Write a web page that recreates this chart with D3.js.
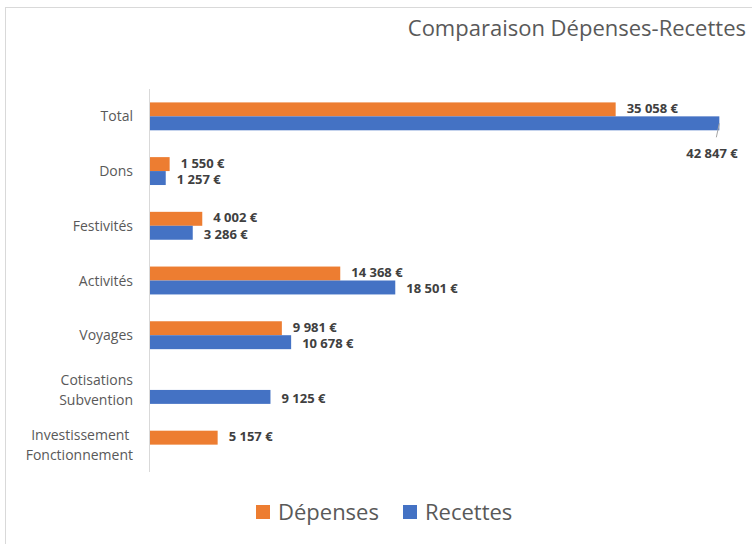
<!DOCTYPE html>
<html>
<head>
<meta charset="utf-8">
<script src="https://cdn.jsdelivr.net/npm/d3@7"></script>
<style>
  body { margin: 0; background: #fff; }
  text { font-family: "Open Sans", "Noto Sans", sans-serif; }
</style>
</head>
<body>
<script>
// données
var categories = ["Total", "Dons", "Festivités", "Activités", "Voyages", "Cotisations\nSubvention", "Investissement \nFonctionnement"];
var series = ["Dépenses", "Recettes"];
var depenses = [35058, 1550, 4002, 14368, 9981, null, 5157];
var recettes = [42847, 1257, 3286, 18501, 10678, 9125, null];
var colors = ["#ED7D31", "#4472C4"];

var width = 752, height = 544;

var svg = d3.select("body").append("svg")
    .attr("width", width)
    .attr("height", height);

// cadre du graphique
svg.append("rect")
    .attr("x", 5.5).attr("y", 7.5)
    .attr("width", 800).attr("height", 600)
    .attr("fill", "none")
    .attr("stroke", "#d9d9d9");

var xScale = d3.scaleLinear().domain([0, 45000]).range([149, 748]);
var yScale = d3.scaleBand().domain(categories).range([89, 472]).paddingInner(0.49).paddingOuter(0.245);
var inner = d3.scaleBand().domain(series).range([0, yScale.bandwidth()]);

var fmt = function (v) { return d3.format(",")(v).replace(/,/g, "\u00a0") + "\u00a0€"; };

// titre
svg.append("text")
    .attr("x", 746).attr("y", 36)
    .attr("text-anchor", "end")
    .attr("font-size", 22)
    .attr("fill", "#595959")
    .text("Comparaison Dépenses-Recettes");

// étiquettes des catégories
var cat = svg.selectAll(".cat").data(categories).enter().append("text")
    .attr("class", "cat")
    .attr("text-anchor", "end")
    .attr("font-size", 14)
    .attr("fill", "#595959")
    .attr("xml:space", "preserve");
cat.each(function (d) {
    var lines = d.split("\n");
    var cy = yScale(d) + yScale.bandwidth() / 2;
    var t = d3.select(this);
    lines.forEach(function (l, i) {
        t.append("tspan")
            .attr("x", 133)
            .attr("y", cy + (i - (lines.length - 1) / 2) * 20 + 5)
            .text(l);
    });
});

// barres
var rows = [];
categories.forEach(function (c, i) {
    rows.push({ cat: c, s: 0, v: depenses[i] });
    rows.push({ cat: c, s: 1, v: recettes[i] });
});
rows = rows.filter(function (r) { return r.v != null; });

svg.selectAll(".bar").data(rows).enter().append("rect")
    .attr("class", "bar")
    .attr("x", xScale(0))
    .attr("y", function (d) { return yScale(d.cat) + inner(series[d.s]); })
    .attr("width", function (d) { return xScale(d.v) - xScale(0); })
    .attr("height", inner.bandwidth())
    .attr("fill", function (d) { return colors[d.s]; });

// axe vertical
svg.append("line")
    .attr("x1", 149.5).attr("x2", 149.5)
    .attr("y1", 89).attr("y2", 472)
    .attr("stroke", "#d9d9d9");

// étiquettes de valeurs
svg.selectAll(".val").data(rows).enter().append("text")
    .attr("class", "val")
    .attr("font-size", 13)
    .attr("font-weight", "bold")
    .attr("fill", "#404040")
    .attr("x", function (d) {
        if (d.cat == "Total" && d.s == 1) return xScale(d.v) - 33;
        return xScale(d.v) + 11;
    })
    .attr("y", function (d) {
        var y = yScale(d.cat) + inner(series[d.s]) + inner.bandwidth() / 2 + 4.5;
        y += d.s == 0 ? -1 : 1.5;
        if (d.cat == "Total" && d.s == 1) y += 28.5;
        return y;
    })
    .text(function (d) { return fmt(d.v); });

// ligne de rappel pour 42 847 €
var tot = rows.filter(function (r) { return r.cat == "Total" && r.s == 1; })[0];
svg.append("line")
    .attr("x1", xScale(tot.v)).attr("y1", yScale("Total") + inner("Recettes") + inner.bandwidth() / 2)
    .attr("x2", xScale(tot.v) - 3).attr("y2", yScale("Total") + inner("Recettes") + inner.bandwidth() + 7)
    .attr("stroke", "#a6a6a6");

// légende
var legend = svg.selectAll(".leg").data(series).enter().append("g")
    .attr("class", "leg")
    .attr("transform", function (d, i) { return "translate(" + [256, 403][i] + ",505)"; });
legend.append("rect")
    .attr("width", 14).attr("height", 14)
    .attr("fill", function (d, i) { return colors[i]; });
legend.append("text")
    .attr("x", 22).attr("y", 15)
    .attr("font-size", 22)
    .attr("fill", "#595959")
    .text(function (d) { return d; });
</script>
</body>
</html>
